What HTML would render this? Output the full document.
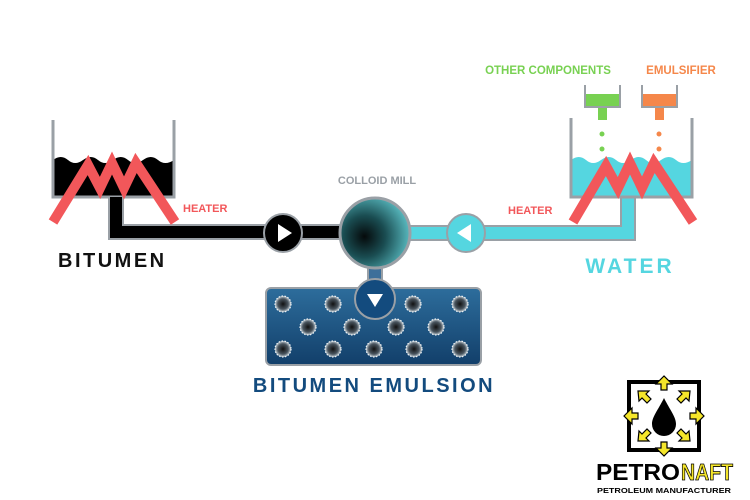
<!DOCTYPE html>
<html><head><style>
html,body{margin:0;padding:0;background:#fff;}
svg{display:block;font-family:"Liberation Sans",sans-serif;}
</style></head><body>
<svg width="750" height="500" viewBox="0 0 750 500">
<defs>
<radialGradient id="mill" cx="0.35" cy="0.55" r="0.75">
<stop offset="0" stop-color="#050a0b"/><stop offset="0.4" stop-color="#1a4d52"/><stop offset="1" stop-color="#6ad8de"/>
</radialGradient>
<linearGradient id="em" x1="0" y1="0" x2="0" y2="1"><stop offset="0" stop-color="#2d6d9c"/><stop offset="1" stop-color="#123f6a"/></linearGradient>
<radialGradient id="dot"><stop offset="0" stop-color="#111"/><stop offset="0.65" stop-color="#4a5660"/><stop offset="1" stop-color="#c8d2d8"/></radialGradient>
</defs>
<!-- bitumen tank -->
<rect x="53" y="157" width="121" height="39" fill="#000"/>
<path d="M53 160 q8 -6 15 0 t15 0 t15 0 t15 0 t15 0 t15 0 t15 0 t16 0 v-6 h-121z" fill="#fff"/>
<path d="M53 120 V197 H174 V120" fill="none" stroke="#9aa0a6" stroke-width="3"/>
<!-- black pipe -->
<path d="M116 197 V232 H345" fill="none" stroke="#9aa0a6" stroke-width="16"/>
<path d="M116 197 V232 H345" fill="none" stroke="#000" stroke-width="12"/>
<polyline points="53,222 88,165 100,188 112,163 124,188 136,163 175,222" fill="none" stroke="#f2575a" stroke-width="10" stroke-linejoin="miter"/>
<!-- cyan pipe -->
<path d="M405 233 H628 V190" fill="none" stroke="#9aa0a6" stroke-width="16"/>
<path d="M405 233 H628 V190" fill="none" stroke="#55d6e0" stroke-width="12"/>
<!-- water tank -->
<rect x="571" y="156" width="121" height="40" fill="#55d6e0"/>
<path d="M571 160 q8 -6 15 0 t15 0 t15 0 t15 0 t15 0 t15 0 t15 0 t16 0 v-6 h-121z" fill="#fff"/>
<path d="M571 118 V197 H692 V118" fill="none" stroke="#9aa0a6" stroke-width="3"/>
<polyline points="573,222 606,166 618,188 630,163 642,188 654,163 693,222" fill="none" stroke="#f2575a" stroke-width="10"/>
<!-- small tanks -->
<rect x="585" y="94" width="35" height="12" fill="#78d152"/><rect x="598" y="104" width="9" height="16" fill="#78d152"/>
<path d="M585 85 V107 H620 V85" fill="none" stroke="#9aa0a6" stroke-width="2"/>
<circle cx="602" cy="134" r="2.5" fill="#78d152"/><circle cx="602" cy="149" r="2.5" fill="#78d152"/>
<rect x="642" y="94" width="35" height="12" fill="#f5874a"/><rect x="655" y="104" width="9" height="16" fill="#f5874a"/>
<path d="M642 85 V107 H677 V85" fill="none" stroke="#9aa0a6" stroke-width="2"/>
<circle cx="659" cy="134" r="2.5" fill="#f5874a"/><circle cx="659" cy="149" r="2.5" fill="#f5874a"/>
<!-- connector mill to emulsion -->
<rect x="368" y="265" width="14" height="26" fill="#3d6f9a" stroke="#9aa0a6" stroke-width="2"/>
<!-- pumps -->
<circle cx="283" cy="233" r="19" fill="#000" stroke="#9aa0a6" stroke-width="2"/>
<path d="M278 224 L292 233 L278 242Z" fill="#fff"/>
<circle cx="466" cy="233" r="19" fill="#55d6e0" stroke="#9aa0a6" stroke-width="2"/>
<path d="M471 224 L457 233 L471 242Z" fill="#fff"/>
<!-- mill -->
<circle cx="375" cy="233" r="35" fill="url(#mill)" stroke="#9aa0a6" stroke-width="3"/>
<!-- emulsion box -->
<rect x="266" y="288" width="215" height="77" rx="5" fill="url(#em)" stroke="#9aa0a6" stroke-width="2"/>
<g fill="url(#dot)" stroke="#eef3f6" stroke-width="1.2" stroke-dasharray="1.5 1.5">
<circle cx="283" cy="304" r="8"/><circle cx="333" cy="304" r="8"/><circle cx="413" cy="304" r="8"/><circle cx="460" cy="304" r="8"/>
<circle cx="308" cy="327" r="8"/><circle cx="352" cy="327" r="8"/><circle cx="396" cy="327" r="8"/><circle cx="436" cy="327" r="8"/>
<circle cx="283" cy="349" r="8"/><circle cx="333" cy="349" r="8"/><circle cx="374" cy="349" r="8"/><circle cx="414" cy="349" r="8"/><circle cx="460" cy="349" r="8"/>
</g>
<circle cx="375" cy="299" r="20" fill="#134b7e" stroke="#9aa0a6" stroke-width="2"/>
<path d="M367 294 H383 L375 307Z" fill="#fff"/>
<!-- labels -->
<g font-weight="bold">
<text x="548" y="74" font-size="11.5" fill="#78d152" text-anchor="middle">OTHER COMPONENTS</text>
<text x="681" y="74" font-size="11.5" fill="#f5874a" text-anchor="middle">EMULSIFIER</text>
<text x="183" y="212" font-size="11" fill="#f2575a">HEATER</text>
<text x="508" y="214" font-size="11" fill="#f2575a">HEATER</text>
<text x="377" y="184" font-size="11" fill="#9aa0a6" text-anchor="middle">COLLOID MILL</text>
<text x="58" y="267" font-size="20" fill="#111" letter-spacing="2.5">BITUMEN</text>
<text x="630" y="273" font-size="21" fill="#55d6e0" text-anchor="middle" letter-spacing="3">WATER</text>
<text x="374" y="392" font-size="20" fill="#134b7e" text-anchor="middle" letter-spacing="2.5">BITUMEN EMULSION</text>
</g>
<!-- logo -->
<rect x="629" y="382" width="70" height="68" fill="#fff" stroke="#000" stroke-width="4"/>
<g fill="#f5e62a" stroke="#000" stroke-width="1.2">
<path d="M664 376 l-8 8 h5 v6 h6 v-6 h5z"/>
<path d="M664 456 l-8 -8 h5 v-6 h6 v6 h5z"/>
<path d="M624 416 l8 -8 v5 h6 v6 h-6 v5z"/>
<path d="M704 416 l-8 -8 v5 h-6 v6 h6 v5z"/>
<path d="M638 391 h11 l-3 3 l5 5 l-4 4 l-5 -5 l-3 3z"/>
<path d="M690 391 h-11 l3 3 l-5 5 l4 4 l5 -5 l3 3z"/>
<path d="M638 441 h11 l-3 -3 l5 -5 l-4 -4 l-5 5 l-3 -3z"/>
<path d="M690 441 h-11 l3 -3 l-5 -5 l4 -4 l5 5 l3 -3z"/>
</g>
<path d="M664 398 C658 410 652 417 652 424 a12 12 0 0 0 24 0 C676 417 670 410 664 398Z" fill="#000"/>
<text x="596" y="480" font-size="23" font-weight="900" fill="#000" textLength="84" lengthAdjust="spacingAndGlyphs">PETRO</text>
<text x="681" y="480" font-size="23" font-weight="900" fill="#f5e62a" stroke="#000" stroke-width="0.8" textLength="52" lengthAdjust="spacingAndGlyphs">NAFT</text>
<text x="597" y="493" font-size="7.5" font-weight="bold" fill="#000" textLength="134" lengthAdjust="spacingAndGlyphs">PETROLEUM MANUFACTURER</text>
</svg>
</body></html>
